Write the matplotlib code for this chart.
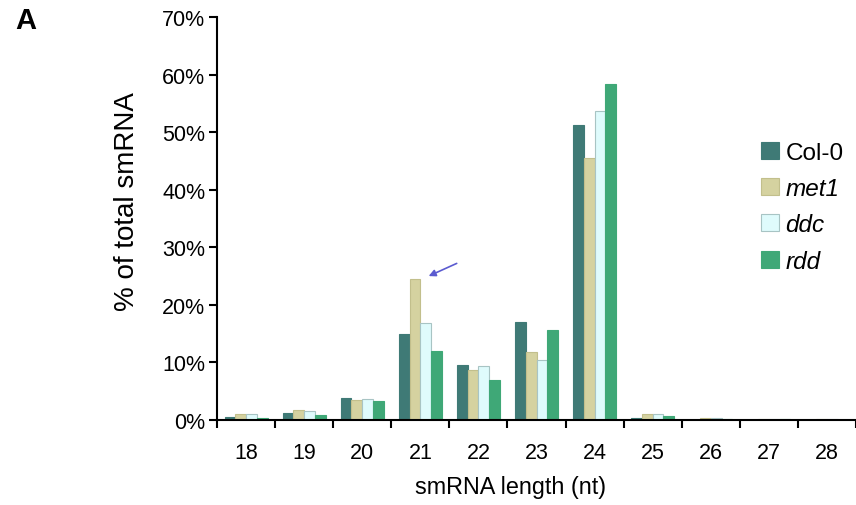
import matplotlib
matplotlib.use("Agg")
import matplotlib.pyplot as plt
import numpy as np
from matplotlib.ticker import FuncFormatter

plt.rcParams['font.family'] = ['Liberation Sans', 'DejaVu Sans']

lengths = ['18', '19', '20', '21', '22', '23', '24', '25', '26', '27', '28']
col0 = [0.5, 1.3, 3.8, 14.9, 9.6, 17.1, 51.3, 0.3, 0.05, 0.05, 0.05]
met1 = [1.1, 1.7, 3.4, 24.5, 8.6, 11.8, 45.5, 1.1, 0.3, 0.2, 0.15]
ddc = [1.0, 1.6, 3.6, 16.9, 9.3, 10.5, 53.7, 1.0, 0.3, 0.2, 0.15]
rdd = [0.4, 0.9, 3.3, 12.0, 6.9, 15.7, 58.3, 0.7, 0.1, 0.1, 0.05]

series = [('Col-0', col0, '#3f7a76', 'normal'),
          ('met1', met1, '#d5d2a0', 'italic'),
          ('ddc', ddc, '#dffbfc', 'italic'),
          ('rdd', rdd, '#3fa877', 'italic')]

W, H = 856, 506
fig = plt.figure(figsize=(W / 100, H / 100), dpi=100)
ax = fig.add_axes([217 / W, 1 - 421 / H, 1 - 217 / W, (421 - 18) / H])

x = np.arange(len(lengths))
w = 0.185
handles = []
for i, (name, vals, color, style) in enumerate(series):
    ec = '#a8c4c4' if name == 'ddc' else ('#c2bf8c' if name == 'met1' else color)
    b = ax.bar(x + (i - 1.5) * w, vals, w, color=color, edgecolor=ec, linewidth=0.8, label=name)
    handles.append(b)

ax.set_xlim(-0.5, len(lengths) - 0.5)
ax.set_ylim(0, 70)
ax.set_yticks(np.arange(0, 71, 10))
ax.yaxis.set_major_formatter(FuncFormatter(lambda v, p: f'{int(v)}%'))
ax.set_xticks(x)
ax.set_xticklabels(lengths)
ax.set_xticks(np.arange(-0.5, len(lengths), 1), minor=True)
ax.tick_params(axis='x', which='major', length=0, labelsize=15.5, pad=15.5)
ax.tick_params(axis='x', which='minor', length=6, width=1.5, direction='out')
ax.tick_params(axis='y', length=6, width=1.5, labelsize=15.5, pad=2.5)
for s in ['top', 'right']:
    ax.spines[s].set_visible(False)
for s in ['left', 'bottom']:
    ax.spines[s].set_linewidth(1.5)
ax.set_ylabel('% of total smRNA', fontsize=20)
ax.yaxis.set_label_coords(-0.1205, 0.545)
ax.set_xlabel('smRNA length (nt)', fontsize=16.8)
ax.xaxis.set_label_coords(0.46, -0.136)

leg = fig.legend(handles=handles, loc='upper left', bbox_to_anchor=(761 / W, 1 - 142.5 / H),
                 bbox_transform=fig.transFigure, borderaxespad=0, borderpad=0,
                 frameon=False, fontsize=17.5, handlelength=0.72, handleheight=0.7,
                 handletextpad=0.28, labelspacing=0.55)
for t, (_, _, _, style) in zip(leg.get_texts(), series):
    t.set_style(style)

ax.annotate('', xy=(3.1, 24.8), xytext=(3.67, 27.4),
            arrowprops=dict(arrowstyle='-|>', color='#5b5bd0', lw=1.2, mutation_scale=10))

fig.text(25.3 / W, 1 - 20.8 / H, 'A', fontsize=21, fontweight='bold', va='center', ha='center')

fig.savefig('out.png', dpi=100)
